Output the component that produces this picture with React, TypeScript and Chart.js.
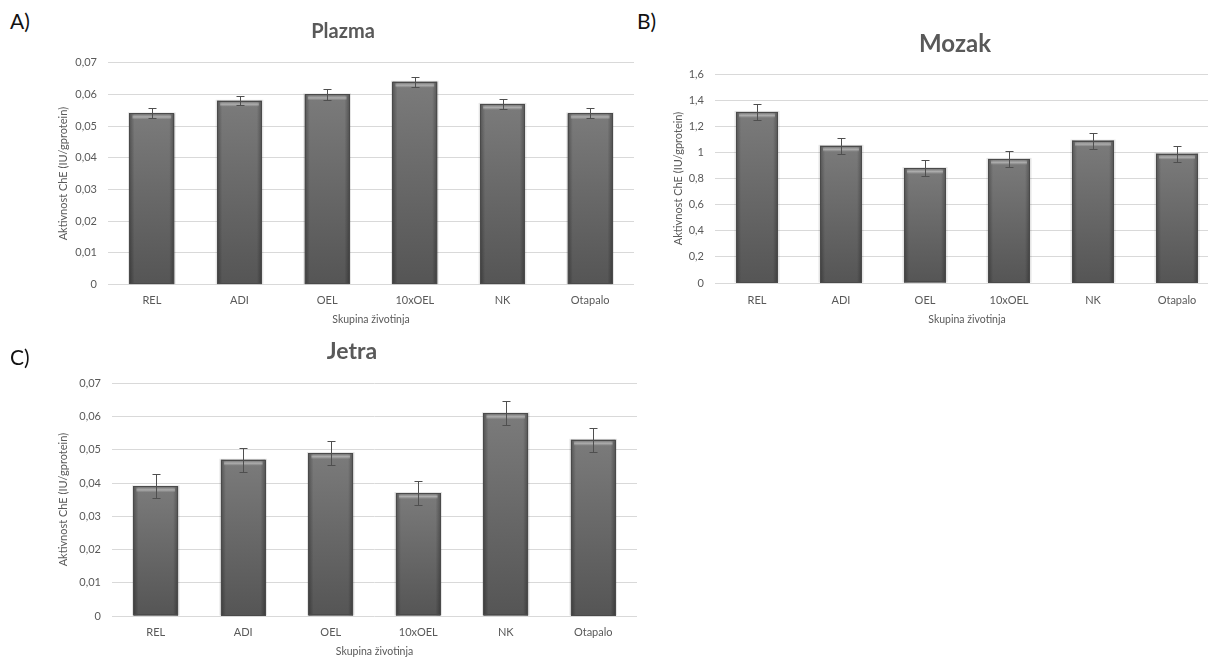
import React, { useEffect, useRef } from "react";
import { Chart, registerables } from "chart.js";

Chart.register(...registerables);

// ---------- data ----------
const categories = ["REL", "ADI", "OEL", "10xOEL", "NK", "Otapalo"];

const plazmaValues = [0.054, 0.058, 0.06, 0.064, 0.057, 0.054];
const plazmaErrors = [0.0016, 0.0015, 0.0017, 0.0016, 0.0015, 0.0016];
const plazmaTicks = [0, 0.01, 0.02, 0.03, 0.04, 0.05, 0.06, 0.07];

const mozakValues = [1.31, 1.05, 0.88, 0.95, 1.09, 0.99];
const mozakErrors = [0.063, 0.063, 0.06, 0.06, 0.062, 0.062];
const mozakTicks = [0, 0.2, 0.4, 0.6, 0.8, 1, 1.2, 1.4, 1.6];

const jetraValues = [0.039, 0.047, 0.049, 0.037, 0.061, 0.053];
const jetraErrors = [0.0036, 0.0036, 0.0036, 0.0036, 0.0036, 0.0036];
const jetraTicks = [0, 0.01, 0.02, 0.03, 0.04, 0.05, 0.06, 0.07];

const titles = ["Plazma", "Mozak", "Jetra"];
const panelLetters = ["A)", "B)", "C)"];
const yAxisTitle = "Aktivnost ChE (IU/gprotein)";
const xAxisTitle = "Skupina životinja";

// ---------- styling ----------
const FONT = "Lato, 'Open Sans', sans-serif";
const TEXT = "#595959";

type Spec = {
  left: number;
  top: number;
  width: number;
  height: number;
  yWidth: number;
  xHeight: number;
  yTitlePad: number;
  xTickPad: number;
  xTitlePadBottom: number;
  titleSize: number;
  titlePadTop: number;
  titlePadBottom: number;
  titleCenter: number;
  barPct: number;
  max: number;
  values: number[];
  errors: number[];
  ticks: number[];
  title: string;
};

const fmt = (v: number) => String(parseFloat(v.toFixed(3))).replace(".", ",");

function titleShiftPlugin(center: number) {
  return {
    id: "titleShift",
    afterLayout(chart: any) {
      const t = chart.titleBlock;
      if (!t) return;
      const shift = center - (t.left + t.right) / 2;
      t.left += shift;
      t.right += shift;
    },
  };
}

function bevelPlugin(values: number[], errors: number[]) {
  return {
    id: "bevelErrors",
    afterDatasetsDraw(chart: any) {
      const ctx = chart.ctx as CanvasRenderingContext2D;
      const meta = chart.getDatasetMeta(0);
      const yScale = chart.scales.y;
      meta.data.forEach((bar: any, i: number) => {
        const { x, y, base, width } = bar.getProps(["x", "y", "base", "width"], true);
        const left = x - width / 2;
        const top = y;
        const h = base - y;
        ctx.save();
        // soft shadow
        ctx.fillStyle = "rgba(0,0,0,0.10)";
        ctx.fillRect(left - 1.5, top - 1, width + 3, h + 1);
        // body gradient
        const g = ctx.createLinearGradient(0, top, 0, base);
        g.addColorStop(0, "#7b7b7b");
        g.addColorStop(1, "#555555");
        ctx.fillStyle = g;
        ctx.fillRect(left, top, width, h);
        // side shading
        const gl = ctx.createLinearGradient(left, 0, left + 5, 0);
        gl.addColorStop(0, "rgba(0,0,0,0.30)");
        gl.addColorStop(1, "rgba(0,0,0,0)");
        ctx.fillStyle = gl;
        ctx.fillRect(left, top, 5, h);
        const gr = ctx.createLinearGradient(left + width - 5, 0, left + width, 0);
        gr.addColorStop(0, "rgba(0,0,0,0)");
        gr.addColorStop(1, "rgba(0,0,0,0.30)");
        ctx.fillStyle = gr;
        ctx.fillRect(left + width - 5, top, 5, h);
        // top highlight
        const gt = ctx.createLinearGradient(0, top + 1, 0, top + 6);
        gt.addColorStop(0, "rgba(255,255,255,0)");
        gt.addColorStop(0.5, "rgba(255,255,255,0.38)");
        gt.addColorStop(1, "rgba(255,255,255,0)");
        ctx.fillStyle = gt;
        ctx.fillRect(left + 3, top + 1, width - 6, 5);
        // outline
        ctx.strokeStyle = "#4a4a4a";
        ctx.lineWidth = 1;
        ctx.strokeRect(Math.round(left) + 0.5, Math.round(top) + 0.5, Math.round(width) - 1, Math.round(h) - 1);
        // error bar
        const v = values[i];
        const e = errors[i];
        const yHi = Math.round(yScale.getPixelForValue(v + e)) + 0.5;
        const yLo = Math.round(yScale.getPixelForValue(v - e)) + 0.5;
        const cx = Math.round(x) + 0.5;
        ctx.strokeStyle = "#4f4f4f";
        ctx.beginPath();
        ctx.moveTo(cx, yHi);
        ctx.lineTo(cx, yLo);
        ctx.moveTo(cx - 4, yHi);
        ctx.lineTo(cx + 4, yHi);
        ctx.moveTo(cx - 4, yLo);
        ctx.lineTo(cx + 4, yLo);
        ctx.stroke();
        ctx.restore();
      });
    },
  };
}

function makeConfig(s: Spec): any {
  return {
    type: "bar",
    data: {
      labels: categories,
      datasets: [
        {
          data: s.values,
          backgroundColor: "#666666",
          borderWidth: 0,
          barPercentage: s.barPct,
          categoryPercentage: 1,
        },
      ],
    },
    options: {
      animation: false,
      responsive: false,
      maintainAspectRatio: false,
      layout: { padding: { left: 0, right: 0, top: 0, bottom: 0 } },
      plugins: {
        legend: { display: false },
        tooltip: { enabled: false },
        title: {
          display: true,
          text: s.title,
          color: TEXT,
          font: { family: FONT, size: s.titleSize, weight: "bold", lineHeight: 1.2 },
          padding: { top: s.titlePadTop, bottom: s.titlePadBottom },
        },
      },
      scales: {
        x: {
          grid: { display: false, drawTicks: false },
          border: { display: false },
          ticks: { color: TEXT, font: { family: FONT, size: 11, lineHeight: 1.2 }, padding: s.xTickPad },
          title: {
            display: true,
            text: xAxisTitle,
            color: TEXT,
            font: { family: FONT, size: 10.5, lineHeight: 1.2 },
            padding: { top: 0, bottom: s.xTitlePadBottom },
          },
          afterFit: (sc: any) => {
            sc.height = s.xHeight;
          },
        },
        y: {
          min: 0,
          max: s.max,
          grid: { color: "#d9d9d9", drawTicks: false, lineWidth: 1 },
          border: { display: false },
          ticks: {
            color: TEXT,
            font: { family: FONT, size: 11, lineHeight: 1.2 },
            padding: 11,
            callback: (v: any) => fmt(Number(v)),
          },
          afterBuildTicks: (sc: any) => {
            sc.ticks = s.ticks.map((v) => ({ value: v }));
          },
          title: {
            display: true,
            text: yAxisTitle,
            color: TEXT,
            font: { family: FONT, size: 11, lineHeight: 1.2 },
            padding: { top: s.yTitlePad, bottom: 0 },
          },
          afterFit: (sc: any) => {
            sc.width = s.yWidth;
          },
        },
      },
    },
    plugins: [titleShiftPlugin(s.titleCenter), bevelPlugin(s.values, s.errors)],
  };
}

const specs: Spec[] = [
  {
    left: 40, top: 0, width: 594, height: 335, yWidth: 68, xHeight: 50.4,
    yTitlePad: 16.4, xTickPad: 9.5, xTitlePadBottom: 8.7,
    titleSize: 20, titlePadTop: 20, titlePadBottom: 18.7, titleCenter: 303, barPct: 0.51, max: 0.07,
    values: plazmaValues, errors: plazmaErrors, ticks: plazmaTicks, title: titles[0],
  },
  {
    left: 660, top: 0, width: 559, height: 335, yWidth: 55, xHeight: 52,
    yTitlePad: 11.4, xTickPad: 10.4, xTitlePadBottom: 8.7,
    titleSize: 24, titlePadTop: 29.6, titlePadBottom: 15.6, titleCenter: 295, barPct: 0.5, max: 1.6,
    values: mozakValues, errors: mozakErrors, ticks: mozakTicks, title: titles[1],
  },
  {
    left: 40, top: 330, width: 597, height: 327, yWidth: 72, xHeight: 41,
    yTitlePad: 16.4, xTickPad: 10.1, xTitlePadBottom: -1,
    titleSize: 23, titlePadTop: 8.2, titlePadBottom: 17.5, titleCenter: 312, barPct: 0.51, max: 0.07,
    values: jetraValues, errors: jetraErrors, ticks: jetraTicks, title: titles[2],
  },
];

function Panel({ spec }: { spec: Spec }) {
  const ref = useRef<HTMLCanvasElement | null>(null);
  useEffect(() => {
    if (!ref.current) return;
    const chart = new Chart(ref.current, makeConfig(spec));
    return () => chart.destroy();
  }, [spec]);
  return (
    <canvas
      ref={ref}
      width={spec.width}
      height={spec.height}
      style={{ position: "absolute", left: spec.left, top: spec.top, width: spec.width, height: spec.height }}
    />
  );
}

const letterPos = [
  { left: 10, top: 9 },
  { left: 637, top: 9 },
  { left: 10, top: 345 },
];

export default function App() {
  return (
    <div
      style={{
        position: "fixed",
        left: 0,
        top: 0,
        width: 1208,
        height: 657,
        overflow: "hidden",
        background: "#ffffff",
      }}
    >
      {specs.map((s, i) => (
        <Panel key={i} spec={s} />
      ))}
      {panelLetters.map((t, i) => (
        <div
          key={t}
          style={{
            position: "absolute",
            left: letterPos[i].left,
            top: letterPos[i].top,
            fontFamily: FONT,
            fontSize: 21,
            lineHeight: "24px",
            color: "#111",
          }}
        >
          {t}
        </div>
      ))}
    </div>
  );
}
